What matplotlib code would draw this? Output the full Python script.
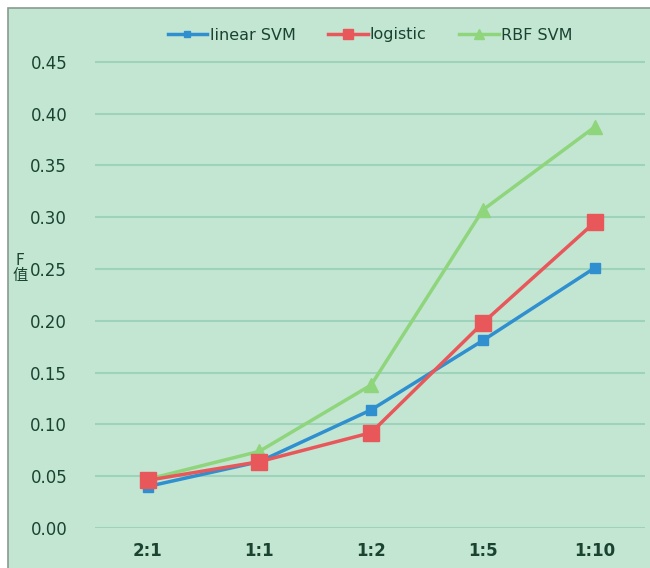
import matplotlib.pyplot as plt
from matplotlib.patches import Rectangle

plt.rcParams['font.family'] = ['DejaVu Sans', 'Noto Sans CJK SC']

ratios = ['2:1', '1:1', '1:2', '1:5', '1:10']
linear_svm = [0.040, 0.064, 0.114, 0.181, 0.251]
logistic = [0.046, 0.064, 0.092, 0.198, 0.295]
rbf_svm = [0.047, 0.074, 0.138, 0.307, 0.387]

bg = '#c3e6d3'
txt = '#1a4430'

fig = plt.figure(figsize=(6.5, 5.68), dpi=100)
fig.patch.set_facecolor('white')
# green panel with grey border, cut off at right / bottom like the scan
fig.patches.append(Rectangle((8 / 650, -0.01), 1.0, 1 - 8 / 568 + 0.01,
                             transform=fig.transFigure, facecolor=bg,
                             edgecolor='#8a9a90', linewidth=1.2, zorder=-5))

ax = fig.add_axes([95 / 650, 1 - 528 / 568, 550 / 650, (528 - 41) / 568])
ax.set_facecolor('none')
x = list(range(len(ratios)))

ax.plot(x, linear_svm, color='#2f8fcf', lw=2.5, marker='s', ms=7, label='linear SVM', zorder=3)
ax.plot(x, logistic, color='#e8575a', lw=2.5, marker='s', ms=11, label='logistic', zorder=3)
ax.plot(x, rbf_svm, color='#8fd57c', lw=2.5, marker='^', ms=10, label='RBF SVM', zorder=2)

ax.set_xlim(-0.47, 4.45)
ax.set_ylim(0, 0.47)
ax.set_yticks([i * 0.05 for i in range(10)])
ax.set_yticklabels([f'{i * 0.05:.2f}' for i in range(10)])
ax.set_xticks(x)
ax.set_xticklabels(ratios, fontweight='bold')
ax.grid(axis='y', color='#9dd3ba', lw=1.5)
ax.set_axisbelow(True)
for s in ax.spines.values():
    s.set_visible(False)
ax.tick_params(length=0, colors=txt, labelsize=12)
ax.tick_params(axis='y', pad=20)
ax.tick_params(axis='x', pad=10)

fig.text(20 / 650, 1 - 268 / 568, 'F\n值', ha='center', va='center', fontsize=11,
         color=txt, family=['Noto Sans CJK SC', 'DejaVu Sans'], linespacing=0.85)

fig.legend(loc='center', bbox_to_anchor=(370 / 650, 1 - 35 / 568), ncol=3, frameon=False,
           fontsize=11.5, labelcolor=txt, handlelength=2.5, columnspacing=2.0,
           handletextpad=0.15, markerscale=0.7)

fig.savefig('out.png', dpi=100, facecolor='white')
